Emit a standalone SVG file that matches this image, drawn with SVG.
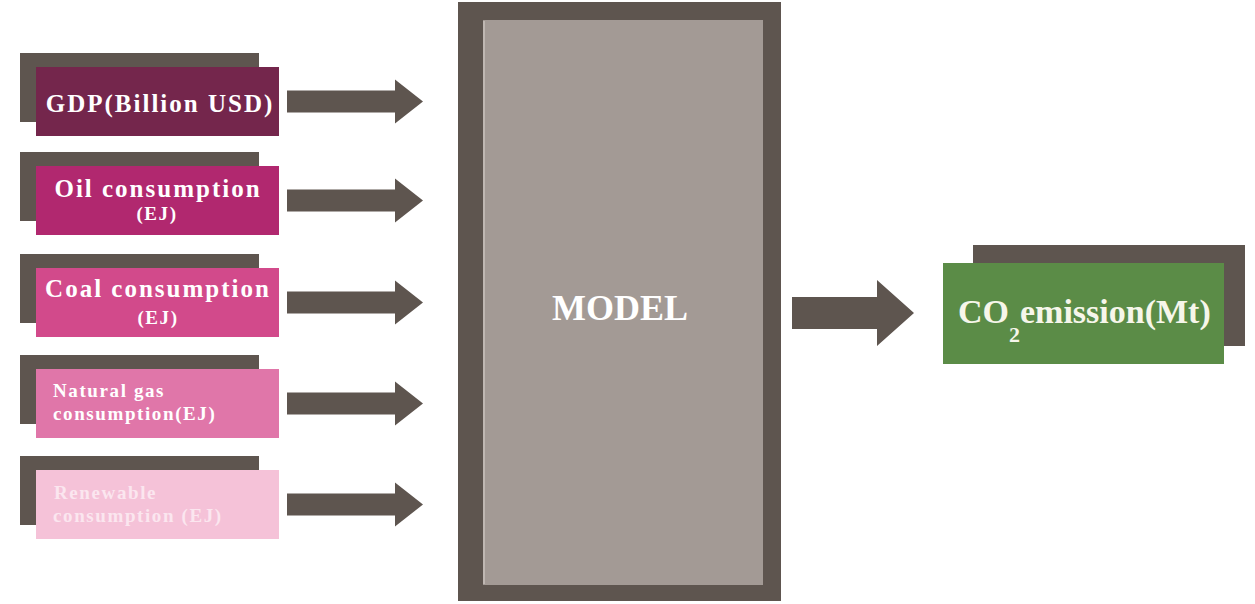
<svg xmlns="http://www.w3.org/2000/svg" width="1255" height="604" viewBox="0 0 1255 604">
<style>
.back{fill:#5e554f}
.arrow{fill:#5e554f}
.lbl{font-family:"Liberation Serif","Times New Roman",serif;font-weight:bold;fill:#ffffff}
.big{font-size:25px;letter-spacing:2px}
.sm{font-size:19px;letter-spacing:1.6px}
</style>
<rect width="1255" height="604" fill="#ffffff"/>
<g id="model">
<rect x="458" y="2" width="323" height="599" fill="#5e554f"/>
<rect x="483" y="20" width="280" height="565" fill="#a39a95"/>
<line x1="484" y1="21" x2="484" y2="584" stroke="#c9c1bc" stroke-width="1.5"/>
<text class="lbl" x="620" y="320" font-size="36" text-anchor="middle">MODEL</text>
</g>
<g id="gdp">
<rect class="back" x="20" y="53" width="239" height="69"/>
<rect x="36" y="67" width="243" height="69" fill="#74264c"/>
<text class="lbl big" x="160" y="112" text-anchor="middle">GDP(Billion USD)</text>
</g>
<g id="oil">
<rect class="back" x="20" y="152" width="239" height="69"/>
<rect x="36" y="166" width="243" height="69" fill="#b1286f"/>
<text class="lbl big" x="158" y="197" text-anchor="middle">Oil consumption</text>
<text class="lbl sm" x="157" y="220" text-anchor="middle">(EJ)</text>
</g>
<g id="coal">
<rect class="back" x="20" y="254" width="239" height="69"/>
<rect x="36" y="268" width="243" height="69" fill="#d24a8b"/>
<text class="lbl big" x="158" y="297" text-anchor="middle">Coal consumption</text>
<text class="lbl sm" x="158" y="324" text-anchor="middle">(EJ)</text>
</g>
<g id="gas">
<rect class="back" x="20" y="355" width="239" height="69"/>
<rect x="36" y="369" width="243" height="69" fill="#e076a9"/>
<text class="lbl sm" x="53" y="397">Natural gas</text>
<text class="lbl sm" x="53" y="420">consumption(EJ)</text>
</g>
<g id="renewable">
<rect class="back" x="20" y="456" width="239" height="69"/>
<rect x="36" y="470" width="243" height="69" fill="#f5c2d8"/>
<text class="lbl sm" x="54" y="499" fill="#fbe9f1" style="fill:#fbe6ef">Renewable</text>
<text class="lbl sm" x="53" y="522" style="fill:#fbe6ef">consumption (EJ)</text>
</g>
<g id="co2">
<rect class="back" x="973" y="245" width="272" height="101"/>
<rect x="943" y="263" width="281" height="101" fill="#5b8c47"/>
<text class="lbl" x="958" y="323" font-size="34" style="fill:#f6f6ea">CO<tspan font-size="22" dy="19">2</tspan><tspan dy="-19">emission(Mt)</tspan></text>
</g>
<g id="connectors">
<polygon class="arrow" points="287,90.5 395,90.5 395,79.5 423,101.5 395,123.5 395,112.5 287,112.5"/>
<polygon class="arrow" points="287,189.5 395,189.5 395,178.5 423,200.5 395,222.5 395,211.5 287,211.5"/>
<polygon class="arrow" points="287,291.5 395,291.5 395,280.5 423,302.5 395,324.5 395,313.5 287,313.5"/>
<polygon class="arrow" points="287,392.5 395,392.5 395,381.5 423,403.5 395,425.5 395,414.5 287,414.5"/>
<polygon class="arrow" points="287,493.5 395,493.5 395,482.5 423,504.5 395,526.5 395,515.5 287,515.5"/>
<polygon class="arrow" points="792,297 877,297 877,280 914,313 877,346 877,329 792,329"/>
</g>
</svg>
